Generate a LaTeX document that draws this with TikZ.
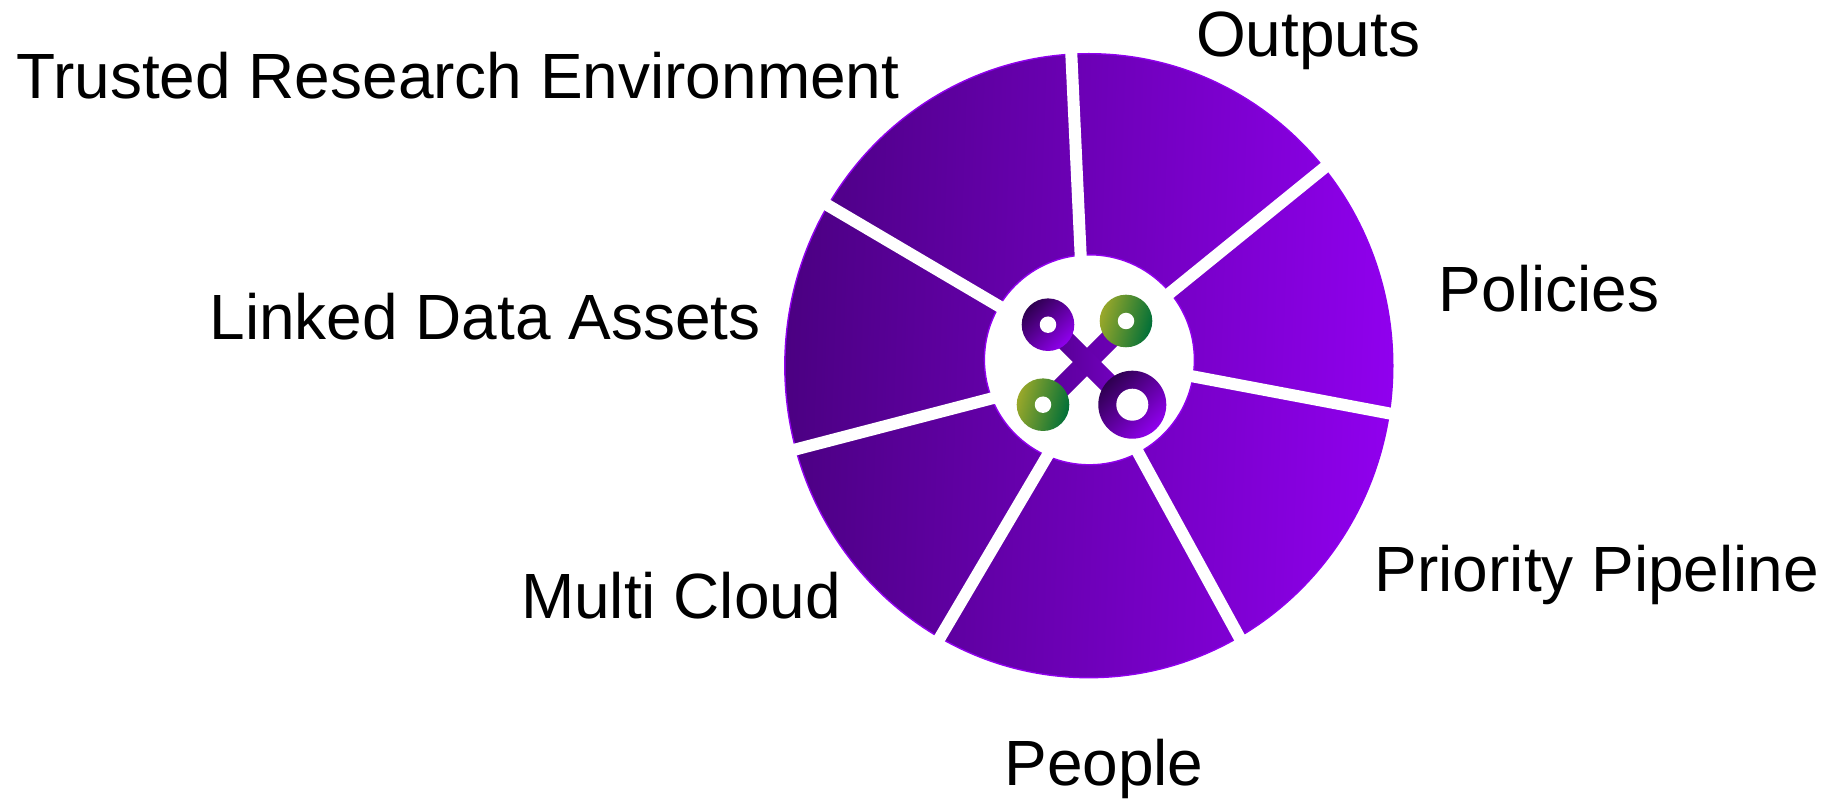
\documentclass[tikz,border=0pt]{standalone}
\usepackage{fontspec}
\setmainfont{Liberation Sans}
\usepackage{xcolor}
\definecolor{wheelDark}{HTML}{4B0082}
\definecolor{wheelBright}{HTML}{9000EE}
\definecolor{ringDark}{HTML}{2E0050}
\definecolor{greenOlive}{HTML}{9AA82A}
\definecolor{greenDeep}{HTML}{006F38}
\tikzset{mywheel/.style={draw=wheelBright, line width=0.4pt, left color=wheelDark, right color=wheelBright, shading angle=88}}
\tikzset{myhub/.style={circle, draw=wheelBright, line width=0.4pt, fill=white, minimum size=2.1cm, inner sep=0pt}}
\tikzset{myspoke/.style={draw=white, line width=0.12cm, shorten >=-0.1cm, shorten <=-0.1cm}}
\tikzset{myringPurple/.style={circle, minimum size=0.526cm, inner sep=0pt, left color=ringDark, right color=wheelBright, shading angle=45}}
\tikzset{myringGreen/.style={circle, minimum size=0.526cm, inner sep=0pt, left color=greenOlive, right color=greenDeep, shading angle=75}}
\tikzset{myhole/.style={circle, fill=white, minimum size=0.165cm, inner sep=0pt}}
\tikzset{mybar/.style={minimum width=1.4cm, minimum height=0.2cm, inner sep=0pt}}
\tikzset{mylabel/.style={font=\fontsize{18.2}{20}\selectfont, inner sep=0pt}}

\begin{document}
\begin{tikzpicture}

\useasboundingbox (0, 0) rectangle (18.26, 7.99);

\coordinate (hub) at (10.894, 4.392);

\shadedraw[mywheel] (10.888, 4.333) ellipse (3.04 and 3.12);
\node[myhub] (hubdisc) at (hub) {};

\draw[myspoke] (10.807, 5.428) -- (10.713, 7.454);
\draw[myspoke] (11.680, 5.044) -- (13.229, 6.301);
\draw[myspoke] (11.913, 4.229) -- (13.892, 3.856);
\draw[myspoke] (11.377, 3.472) -- (12.379, 1.643);
\draw[myspoke] (10.469, 3.425) -- (9.397, 1.608);
\draw[myspoke] (9.922, 4.007) -- (7.954, 3.495);
\draw[myspoke] (9.992, 4.927) -- (8.291, 5.929);

\node[mybar, rotate=45, left color=wheelDark!80!wheelBright, right color=wheelDark!45!wheelBright] (bar1) at (10.87, 4.37) {};
\node[mybar, rotate=-45, left color=wheelDark, right color=wheelDark!25!wheelBright] (bar2) at (10.87, 4.37) {};

\node[myringPurple] (ring1) at (10.48, 4.743) {};
\node[myringGreen] (ring2) at (11.26, 4.78) {};
\node[myringGreen] (ring3) at (10.43, 3.943) {};
\node[myringPurple, minimum size=0.68cm] (ring4) at (11.323, 3.943) {};

\node[myhole] (hole1) at (ring1) {};
\node[myhole] (hole2) at (ring2) {};
\node[myhole] (hole3) at (ring3) {};
\node[myhole, minimum size=0.32cm] (hole4) at (ring4) {};

\node[mylabel] (outputs) at (13.08, 7.58) {Outputs};
\node[mylabel] (tre) at (4.58, 7.23) {Trusted Research Environment};
\node[mylabel] (linked) at (4.85, 4.82) {Linked Data Assets};
\node[mylabel] (policies) at (15.49, 5.10) {Policies};
\node[mylabel] (priority) at (15.97, 2.24) {Priority Pipeline};
\node[mylabel] (multi) at (6.81, 2.03) {Multi Cloud};
\node[mylabel] (people) at (11.04, 0.30) {People};

\end{tikzpicture}
\end{document}
